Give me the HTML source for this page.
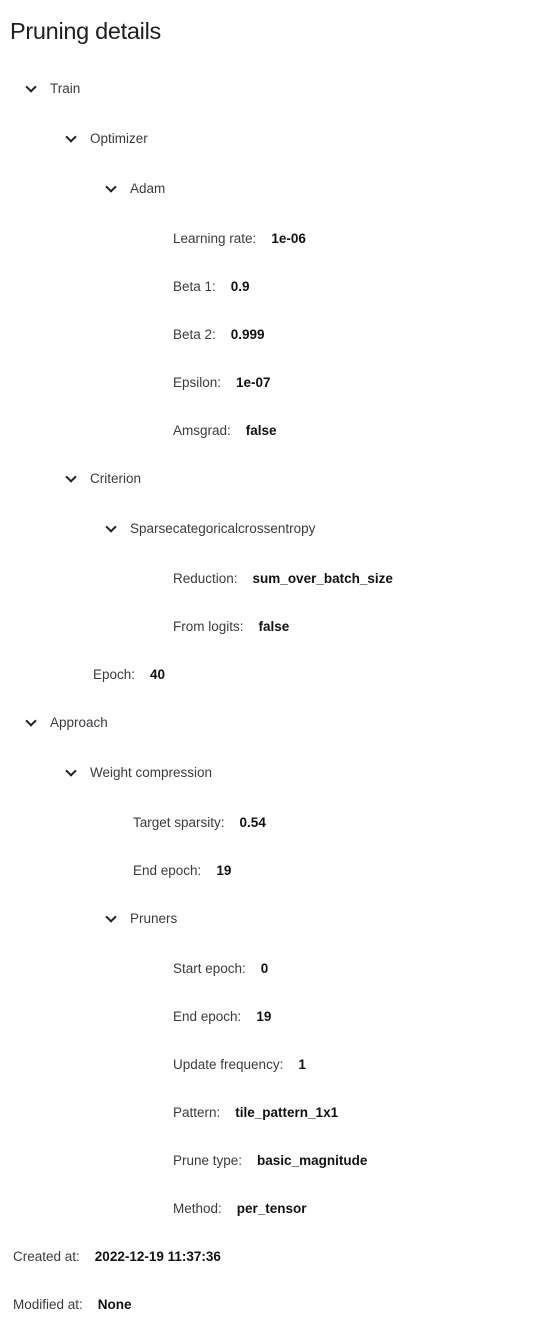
<!DOCTYPE html>
<html><head><style>
body{margin:0;width:539px;height:1332px;background:#fff;font-family:"Liberation Sans",sans-serif;color:#2b2c30;position:relative;overflow:hidden}
.t{position:absolute;left:10px;top:18px;font-size:23.5px;letter-spacing:-0.3px;color:#1e1f22}
.r{position:absolute;font-size:13.5px;line-height:16px;white-space:nowrap;color:#3a3b3f}
.r b{color:#111;font-weight:bold;margin-left:15px}
.c{position:absolute;width:6px;height:6px;border-right:2px solid #222;border-bottom:2px solid #222;transform:rotate(45deg)}
</style></head><body>
<div class="t">Pruning details</div>

<div class="c" style="left:27px;top:83px"></div><div class="r" style="left:50px;top:81px">Train</div>
<div class="c" style="left:67px;top:133px"></div><div class="r" style="left:90px;top:131px">Optimizer</div>
<div class="c" style="left:107px;top:183px"></div><div class="r" style="left:130px;top:181px">Adam</div>
<div class="r" style="left:173px;top:231px">Learning rate:<b>1e-06</b></div>
<div class="r" style="left:173px;top:279px">Beta 1:<b>0.9</b></div>
<div class="r" style="left:173px;top:327px">Beta 2:<b>0.999</b></div>
<div class="r" style="left:173px;top:375px">Epsilon:<b>1e-07</b></div>
<div class="r" style="left:173px;top:423px">Amsgrad:<b>false</b></div>
<div class="c" style="left:67px;top:473px"></div><div class="r" style="left:90px;top:471px">Criterion</div>
<div class="c" style="left:107px;top:523px"></div><div class="r" style="left:130px;top:521px">Sparsecategoricalcrossentropy</div>
<div class="r" style="left:173px;top:571px">Reduction:<b>sum_over_batch_size</b></div>
<div class="r" style="left:173px;top:619px">From logits:<b>false</b></div>
<div class="r" style="left:93px;top:667px">Epoch:<b>40</b></div>
<div class="c" style="left:27px;top:717px"></div><div class="r" style="left:50px;top:715px">Approach</div>
<div class="c" style="left:67px;top:767px"></div><div class="r" style="left:90px;top:765px">Weight compression</div>
<div class="r" style="left:133px;top:815px">Target sparsity:<b>0.54</b></div>
<div class="r" style="left:133px;top:863px">End epoch:<b>19</b></div>
<div class="c" style="left:107px;top:913px"></div><div class="r" style="left:130px;top:911px">Pruners</div>
<div class="r" style="left:173px;top:961px">Start epoch:<b>0</b></div>
<div class="r" style="left:173px;top:1009px">End epoch:<b>19</b></div>
<div class="r" style="left:173px;top:1057px">Update frequency:<b>1</b></div>
<div class="r" style="left:173px;top:1105px">Pattern:<b>tile_pattern_1x1</b></div>
<div class="r" style="left:173px;top:1153px">Prune type:<b>basic_magnitude</b></div>
<div class="r" style="left:173px;top:1201px">Method:<b>per_tensor</b></div>
<div class="r" style="left:13px;top:1249px">Created at:<b>2022-12-19 11:37:36</b></div>
<div class="r" style="left:13px;top:1297px">Modified at:<b>None</b></div>
</body></html>
